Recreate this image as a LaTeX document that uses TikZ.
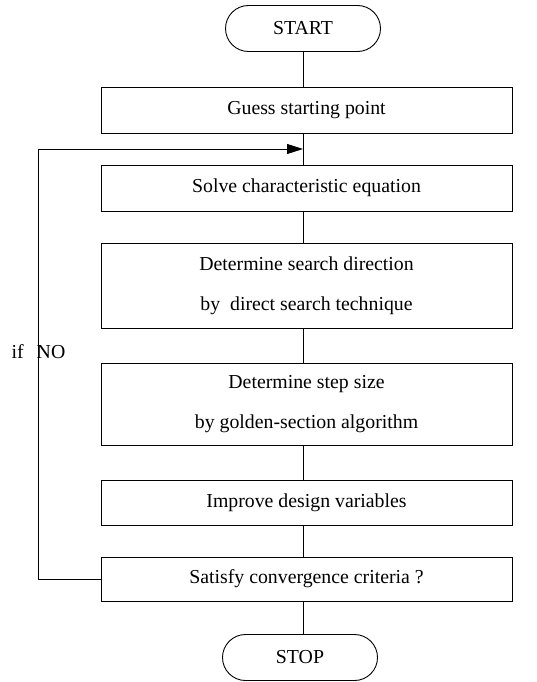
\documentclass[tikz,border=0pt]{standalone}
\usepackage{fontspec}
\setmainfont{Liberation Serif}
\usetikzlibrary{shapes.misc,arrows.meta}
\begin{document}
\begin{tikzpicture}[x=1pt,y=1pt,
  every node/.style={font=\fontsize{19.8}{40}\selectfont},
  box/.style={draw,line width=0.9pt,minimum width=411pt,inner sep=0pt,align=center},
  term/.style={draw,line width=0.9pt,rounded rectangle,minimum width=155pt,minimum height=46pt,inner sep=0pt},
  conn/.style={line width=0.9pt}]
\useasboundingbox (0,0) rectangle (536,-682);
\node[term] (start) at (303,-28.5) {START};
\node[box,minimum height=46pt] (guess) at (306.5,-110) {Guess starting point};
\node[box,minimum height=46pt] (solve) at (306.5,-188) {Solve characteristic equation};
\node[box,minimum height=85pt] (search) at (306.5,-285.5) {Determine search direction\\by\ \ direct search technique};
\node[box,minimum height=82pt] (stepsz) at (306.5,-404) {Determine step size\\by golden-section algorithm};
\node[box,minimum height=45pt] (improve) at (306.5,-502.5) {Improve design variables};
\node[box,minimum height=44pt] (satisfy) at (306.5,-579) {Satisfy convergence criteria ?};
\node[term] (stop) at (300,-657.5) {STOP};
\coordinate (join) at (303,-149);
\coordinate (lb) at (38,-579);
\coordinate (lt) at (38,-149);
\draw[conn] (start.south) -- (start.south |- guess.north);
\draw[conn] (start.south |- guess.south) -- (start.south |- solve.north);
\draw[conn] (start.south |- solve.south) -- (start.south |- search.north);
\draw[conn] (start.south |- search.south) -- (start.south |- stepsz.north);
\draw[conn] (start.south |- stepsz.south) -- (start.south |- improve.north);
\draw[conn] (start.south |- improve.south) -- (start.south |- satisfy.north);
\draw[conn] (start.south |- satisfy.south) -- (stop.north -| start.south);
\draw[conn,-{Triangle[length=16pt,width=10pt]}] (satisfy.west) -- (lb) -- (lt) -- (join);
\node[inner sep=0pt] (ifno) at (38.5,-352) {if\hspace{13pt}NO};
\end{tikzpicture}
\end{document}
